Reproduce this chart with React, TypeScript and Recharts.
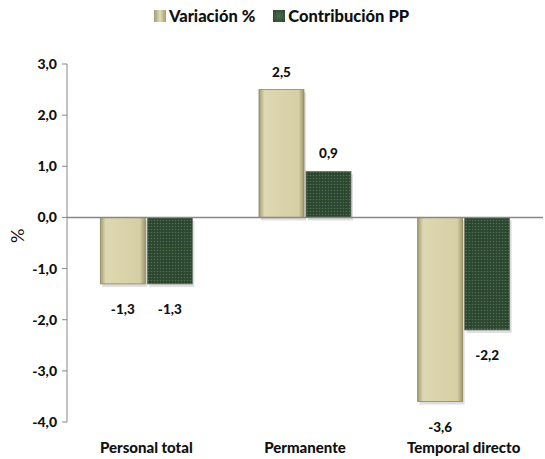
import React from "react";
import { BarChart, Bar, XAxis, YAxis, Legend, ReferenceLine, LabelList } from "recharts";

const categories = ["Personal total", "Permanente", "Temporal directo"];
const variacion = [-1.3, 2.5, -3.6];
const contribucion = [-1.3, 0.9, -2.2];
const yTicks = [-4, -3, -2, -1, 0, 1, 2, 3];

const data = categories.map((name, i) => ({
  name,
  variacion: variacion[i],
  contribucion: contribucion[i],
}));

const fmt = (v: number) => v.toFixed(1).replace(".", ",");
const font = "Lato, 'Open Sans', sans-serif";

const BarLabel = (props: any) => {
  const { x, y, width, height, value } = props;
  const top = Math.min(y, y + height);
  const bottom = Math.max(y, y + height);
  const cx = x + width / 2;
  const ty = value >= 0 ? top - 13 : bottom + 30;
  return (
    <text x={cx} y={ty} textAnchor="middle" fontFamily={font} fontWeight={900} fontSize={13.5} fill="#111">
      {fmt(value)}
    </text>
  );
};

const ShadowBar = (props: any) => {
  const { x, y, width, height, fill, stroke } = props;
  const top = Math.min(y, y + height);
  const h = Math.abs(height);
  return (
    <g>
      <rect x={x + 2} y={top + 3} width={width} height={h} fill="#000" opacity={0.13} />
      <rect x={x} y={top} width={width} height={h} fill={fill} stroke={stroke} strokeWidth={0.8} />
    </g>
  );
};

const LegendContent = () => (
  <div style={{ display: "flex", justifyContent: "center", gap: 18, fontFamily: font, fontWeight: 900, fontSize: 16.5, color: "#111", paddingLeft: 20 }}>
    <span style={{ display: "flex", alignItems: "center" }}>
      <span style={{ width: 12, height: 12, background: "linear-gradient(90deg,#a39c72,#e2dcb6,#a39c72)", marginRight: 3 }} />
      Variación %
    </span>
    <span style={{ display: "flex", alignItems: "center" }}>
      <span style={{ width: 12, height: 12, background: "radial-gradient(#4d6d48,#2c4530)", marginRight: 3 }} />
      Contribución PP
    </span>
  </div>
);

export default function App() {
  return (
    <div style={{ position: "absolute", left: 0, top: 0, width: 545, height: 459, overflow: "hidden" }}>
      <BarChart width={545} height={459} data={data} margin={{ top: 44, right: 2, bottom: 7, left: 0 }} barCategoryGap="21%" barGap={2}>
        <defs>
          <linearGradient id="beige" x1="0" y1="0" x2="1" y2="0">
            <stop offset="0" stopColor="#a39c72" />
            <stop offset="0.12" stopColor="#ded8b2" />
            <stop offset="0.88" stopColor="#d6cfa5" />
            <stop offset="1" stopColor="#9d966b" />
          </linearGradient>
          <pattern id="greenDots" width="3" height="3" patternUnits="userSpaceOnUse">
            <rect width="3" height="3" fill="#2b4530" />
            <circle cx="1.5" cy="1.5" r="0.8" fill="#4f7048" />
          </pattern>
        </defs>
        <Legend verticalAlign="top" content={<LegendContent />} wrapperStyle={{ top: 6 }} />
        <XAxis
          dataKey="name"
          axisLine={false}
          tickLine={false}
          height={30}
          tickMargin={14}
          tick={{ fontFamily: font, fontWeight: 900, fontSize: 15, fill: "#111" }}
        />
        <YAxis
          domain={[-4, 3]}
          ticks={yTicks}
          tickFormatter={fmt}
          width={67}
          stroke="#888"
          tickSize={5}
          tickMargin={5}
          tick={{ fontFamily: font, fontWeight: 900, fontSize: 14, fill: "#111" }}
          label={{ value: "%", angle: -90, position: "insideLeft", offset: 18, style: { fontFamily: font, fontSize: 18, fill: "#111" } }}
        />
        <ReferenceLine y={0} stroke="#888" strokeWidth={1.5} />
        <Bar dataKey="variacion" fill="url(#beige)" stroke="#8f8960" shape={<ShadowBar />} isAnimationActive={false}>
          <LabelList dataKey="variacion" content={<BarLabel />} />
        </Bar>
        <Bar dataKey="contribucion" fill="url(#greenDots)" stroke="#6a7468" shape={<ShadowBar />} isAnimationActive={false}>
          <LabelList dataKey="contribucion" content={<BarLabel />} />
        </Bar>
      </BarChart>
    </div>
  );
}
